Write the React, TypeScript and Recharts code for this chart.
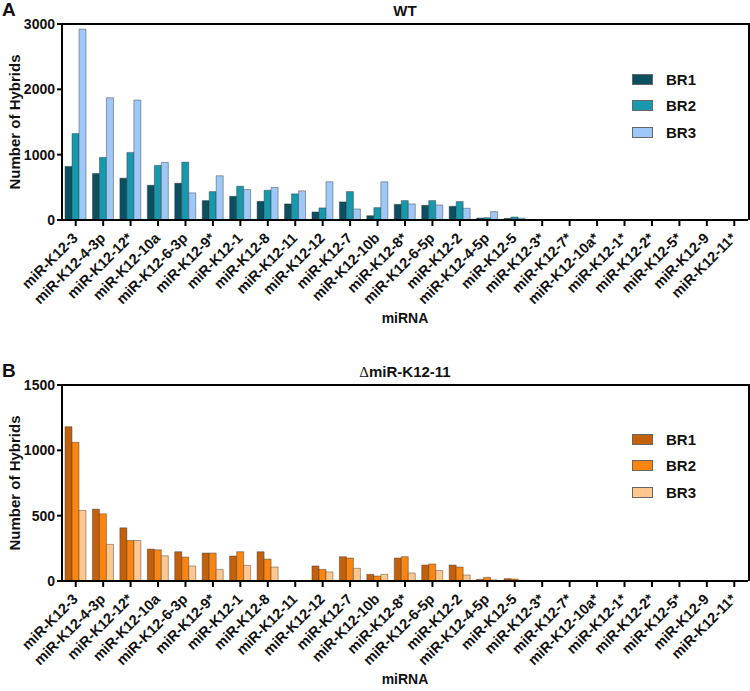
import React from 'react';
import { BarChart, Bar, XAxis, YAxis, Legend } from 'recharts';

const categories = [
  'miR-K12-3', 'miR-K12-4-3p', 'miR-K12-12*', 'miR-K12-10a', 'miR-K12-6-3p', 'miR-K12-9*',
  'miR-K12-1', 'miR-K12-8', 'miR-K12-11', 'miR-K12-12', 'miR-K12-7', 'miR-K12-10b',
  'miR-K12-8*', 'miR-K12-6-5p', 'miR-K12-2', 'miR-K12-4-5p', 'miR-K12-5', 'miR-K12-3*',
  'miR-K12-7*', 'miR-K12-10a*', 'miR-K12-1*', 'miR-K12-2*', 'miR-K12-5*', 'miR-K12-9', 'miR-K12-11*',
];

// WT
const wtBR1 = [820, 712, 640, 532, 563, 297, 363, 286, 246, 123, 277, 66, 240, 225, 210, 30, 25, 0, 0, 0, 0, 0, 0, 0, 0];
const wtBR2 = [1323, 958, 1035, 835, 886, 435, 517, 455, 400, 185, 435, 189, 297, 297, 282, 35, 46, 0, 0, 0, 0, 0, 0, 0, 0];
const wtBR3 = [2920, 1871, 1835, 882, 415, 677, 466, 497, 446, 585, 169, 585, 246, 230, 179, 128, 30, 0, 0, 0, 0, 0, 0, 0, 0];

// delta miR-K12-11
const dkBR1 = [1181, 550, 407, 244, 224, 214, 191, 224, 0, 115, 186, 51, 176, 122, 122, 13, 18, 0, 0, 0, 0, 0, 0, 0, 0];
const dkBR2 = [1061, 514, 310, 239, 183, 214, 224, 168, 0, 89, 176, 38, 186, 130, 107, 28, 15, 0, 0, 0, 0, 0, 0, 0, 0];
const dkBR3 = [540, 280, 310, 193, 115, 89, 120, 107, 0, 69, 97, 51, 61, 81, 46, 8, 5, 0, 0, 0, 0, 0, 0, 0, 0];

const seriesNames = ['BR1', 'BR2', 'BR3'];
const wtTicks = [0, 1000, 2000, 3000];
const dkTicks = [0, 500, 1000, 1500];

const wtColors = ['#0b4f60', '#1898ad', '#9ec8f8'];
const dkColors = ['#c2600c', '#fb850f', '#ffc78e'];

const FONT = 'Liberation Sans, Arial, sans-serif';
const CHART_W = 750;
const LEFT_W = 62;
const RIGHT = 2;
const PLOT_H = 196;

const wtData = categories.map((name, i) => ({ name, BR1: wtBR1[i], BR2: wtBR2[i], BR3: wtBR3[i] }));
const dkData = categories.map((name, i) => ({ name, BR1: dkBR1[i], BR2: dkBR2[i], BR3: dkBR3[i] }));

const XTick = (props: any) => {
  const { x, y, payload } = props;
  return (
    <g transform={`translate(${x + 3},${y + 11})`}>
      <text textAnchor="end" transform="rotate(-45)" fontSize={14.5} fontWeight="bold" fontFamily={FONT} fill="#111">
        {payload.value}
      </text>
    </g>
  );
};

const LegendBox = ({ colors }: { colors: string[] }) => (
  <div style={{ fontFamily: FONT }}>
    {seriesNames.map((s, i) => (
      <div key={s} style={{ display: 'flex', alignItems: 'center', height: 26.5 }}>
        <div style={{ width: 19, height: 9, background: colors[i], border: '1px solid #666', marginRight: 13 }} />
        <span style={{ fontSize: 15, fontWeight: 'bold', color: '#111' }}>{s}</span>
      </div>
    ))}
  </div>
);

interface PanelProps {
  data: any[];
  colors: string[];
  max: number;
  ticks: number[];
  height: number;
  top: number;
  letter: string;
  title: React.ReactNode;
  legendTop: number;
}

const Panel: React.FC<PanelProps> = ({ data, colors, max, ticks, height, top, letter, title, legendTop }) => {
  const xHeight = 103;
  const bottom = height - top - PLOT_H - xHeight;
  const frame = { stroke: '#000', strokeWidth: 2 };
  return (
    <div style={{ position: 'relative', width: CHART_W, height }}>
      <BarChart width={CHART_W} height={height} data={data} margin={{ top, right: RIGHT, left: 0, bottom }} barGap={0} barSize={7}>
        <XAxis
          dataKey="name"
          interval={0}
          height={xHeight}
          tick={<XTick />}
          tickSize={6}
          tickMargin={2}
          axisLine={frame}
          tickLine={frame}
          label={{
            content: (p: any) => {
              const vb = p.viewBox;
              return (
                <text x={vb.x + vb.width / 2} y={vb.y + 103} textAnchor="middle" fontSize={14} fontWeight="bold" fontFamily={FONT} fill="#111">
                  miRNA
                </text>
              );
            },
          }}
        />
        <YAxis
          width={LEFT_W}
          domain={[0, max]}
          ticks={ticks}
          interval={0}
          tickSize={5}
          tickMargin={2}
          tick={{ fontSize: 14, fontWeight: 'bold', fontFamily: FONT, fill: '#111' }}
          axisLine={frame}
          tickLine={frame}
          label={{
            content: (p: any) => {
              const vb = p.viewBox;
              const cy = vb.y + vb.height / 2;
              return (
                <g>
                  <text x={2} y={top - 8} fontSize={19} fontWeight="bold" fontFamily={FONT} fill="#111">
                    {letter}
                  </text>
                  <text x={405} y={top - 8} textAnchor="middle" fontSize={15} fontWeight="bold" fontFamily={FONT} fill="#111">
                    {title}
                  </text>
                  <text x={14} y={cy} transform={`rotate(-90 14 ${cy})`} textAnchor="middle" dominantBaseline="central" fontSize={15} fontWeight="bold" fontFamily={FONT} fill="#111">
                    Number of Hybrids
                  </text>
                </g>
              );
            },
          }}
        />
        <Legend
          layout="vertical"
          align="center"
          verticalAlign="middle"
          wrapperStyle={{ left: 632, top: legendTop, width: 110 }}
          content={() => <LegendBox colors={colors} />}
        />
        {seriesNames.map((s, i) => (
          <Bar key={s} dataKey={s} fill={colors[i]} stroke="#333" strokeOpacity={0.55} strokeWidth={0.8} isAnimationActive={false} />
        ))}
      </BarChart>
      {/* plot frame: top and right edges */}
      <div
        style={{
          position: 'absolute',
          zIndex: 5,
          left: LEFT_W - 1,
          top: top - 1,
          width: CHART_W - RIGHT - LEFT_W + 3,
          height: PLOT_H + 1,
          borderTop: '2px solid #000',
          borderRight: '2px solid #000',
          boxSizing: 'border-box',
          pointerEvents: 'none',
        }}
      />
    </div>
  );
}

export default function App() {
  return (
    <div style={{ position: 'absolute', left: 0, top: 0, width: 750, height: 691, background: '#fff' }}>
      <div style={{ position: 'absolute', left: 0, top: 0 }}>
        <Panel data={wtData} colors={wtColors} max={3000} ticks={wtTicks} height={335} top={24} letter="A" title="WT" legendTop={66} />
      </div>
      <div style={{ position: 'absolute', left: 0, top: 335 }}>
        <Panel
          data={dkData}
          colors={dkColors}
          max={1500}
          ticks={dkTicks}
          height={356}
          top={50}
          letter="B"
          title={
            <>
              <tspan fontFamily="Liberation Serif, serif" fontWeight="normal">Δ</tspan>miR-K12-11
            </>
          }
          legendTop={91}
        />
      </div>
    </div>
  );
}
